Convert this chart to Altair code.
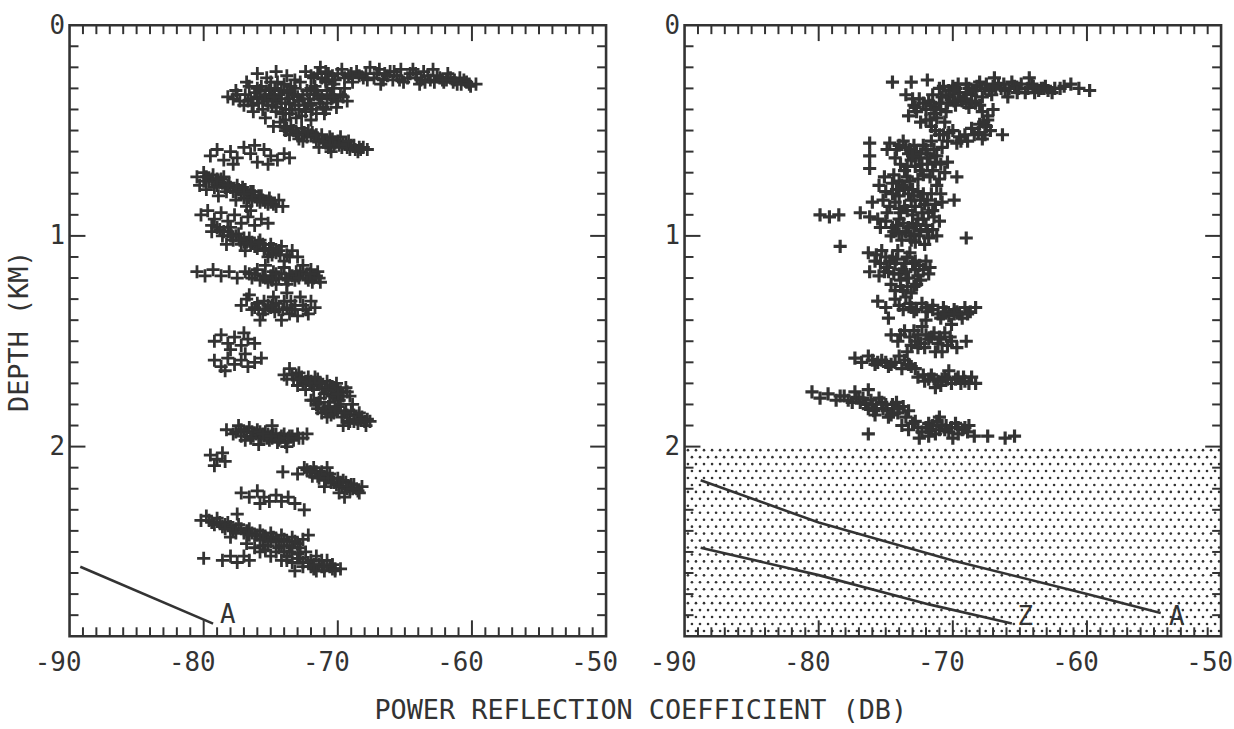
import altair as alt
import numpy as np
import pandas as pd

INK = "#333333"
FONT = "DejaVu Sans Mono"
W, H = 540, 615
X_DOMAIN = [-90, -50]
Y_DOMAIN = [0, 2.9]
CROSS = "M-1,0L1,0M0,-1L0,1"

# ---- left panel: (power reflection coefficient dB, depth km) ----
left_top_streak = [
    (-76.0, 0.23), (-75.3, 0.25), (-74.6, 0.22), (-73.2, 0.26), (-72.4, 0.22), (-71.8, 0.25),
    (-71.3, 0.20), (-70.7, 0.23), (-70.2, 0.26), (-69.7, 0.21), (-69.2, 0.24), (-68.6, 0.22),
    (-68.1, 0.25), (-67.6, 0.20), (-67.1, 0.23), (-66.6, 0.26), (-66.1, 0.22), (-65.6, 0.24),
    (-65.1, 0.27), (-64.6, 0.23), (-64.1, 0.25), (-63.6, 0.22), (-63.1, 0.26), (-62.6, 0.24),
    (-62.1, 0.27), (-61.6, 0.25), (-61.1, 0.28), (-60.6, 0.26), (-60.1, 0.29), (-59.7, 0.28),
    (-65.3, 0.21), (-63.9, 0.28), (-62.9, 0.21), (-68.9, 0.27), (-70.9, 0.27), (-61.8, 0.23),
    (-66.8, 0.28),
    (-71.5, 0.23), (-70.4, 0.24), (-69.0, 0.23), (-67.9, 0.23), (-66.3, 0.24), (-65.8, 0.22),
    (-64.8, 0.25), (-63.3, 0.24), (-62.4, 0.25), (-61.4, 0.27), (-60.4, 0.27),
    (-72.0, 0.24), (-70.9, 0.22), (-69.5, 0.25), (-68.4, 0.24), (-67.3, 0.25), (-66.9, 0.21),
    (-65.9, 0.26), (-64.4, 0.21), (-63.8, 0.26), (-62.8, 0.27), (-61.9, 0.26), (-60.9, 0.25),
    (-60.2, 0.28), (-73.8, 0.24),
    (-71.2, 0.25), (-70.0, 0.23), (-68.9, 0.25), (-67.8, 0.26), (-66.5, 0.23), (-65.4, 0.26),
    (-64.2, 0.23), (-63.5, 0.27), (-62.2, 0.26), (-61.3, 0.26), (-60.8, 0.28),
]
left_upper_mass = [
    (-78.2, 0.34), (-77.6, 0.31), (-77.3, 0.36), (-76.9, 0.33), (-76.6, 0.29), (-76.4, 0.38),
    (-76.0, 0.34), (-75.8, 0.31), (-75.6, 0.40), (-75.3, 0.36), (-75.0, 0.27), (-75.0, 0.33),
    (-74.7, 0.30), (-74.6, 0.39), (-74.3, 0.35), (-74.1, 0.42), (-74.0, 0.28), (-73.8, 0.32),
    (-73.6, 0.37), (-73.4, 0.40), (-73.2, 0.30), (-73.0, 0.34), (-72.8, 0.27), (-72.7, 0.43),
    (-72.5, 0.38), (-72.3, 0.31), (-72.1, 0.35), (-71.9, 0.40), (-71.7, 0.29), (-71.5, 0.33),
    (-71.3, 0.37), (-71.0, 0.42), (-70.8, 0.31), (-70.5, 0.35), (-70.3, 0.28), (-70.1, 0.39),
    (-69.8, 0.33), (-69.5, 0.30), (-73.9, 0.45), (-76.8, 0.27), (-75.4, 0.44), (-70.9, 0.26),
    (-69.3, 0.36), (-72.0, 0.45), (-74.8, 0.36),
    (-76.2, 0.32), (-75.5, 0.35), (-75.1, 0.31), (-74.4, 0.33), (-73.7, 0.35), (-73.3, 0.33),
    (-72.9, 0.36), (-72.6, 0.33), (-72.2, 0.37), (-71.8, 0.33), (-71.4, 0.35), (-74.9, 0.38),
    (-73.9, 0.40), (-72.4, 0.41), (-75.9, 0.37), (-71.1, 0.39), (-70.6, 0.33), (-70.0, 0.36),
    (-77.8, 0.35), (-77.0, 0.38), (-76.5, 0.35), (-75.7, 0.29), (-75.2, 0.38), (-74.5, 0.27),
    (-73.9, 0.37), (-73.5, 0.29), (-72.9, 0.40), (-72.0, 0.30), (-71.6, 0.42), (-70.8, 0.37),
    (-74.2, 0.31), (-76.3, 0.41), (-73.1, 0.44), (-70.4, 0.30), (-69.6, 0.34),
    (-77.5, 0.33), (-76.7, 0.36), (-76.0, 0.30), (-75.4, 0.33), (-74.8, 0.34), (-74.2, 0.37),
    (-73.6, 0.31), (-73.2, 0.38), (-72.6, 0.35), (-72.0, 0.38), (-71.6, 0.31), (-71.2, 0.34),
    (-70.9, 0.40), (-70.3, 0.34), (-74.6, 0.41), (-73.6, 0.42), (-75.0, 0.30),
]
left_band_05 = [
    (-74.8, 0.48), (-74.3, 0.46), (-73.9, 0.50), (-73.5, 0.48), (-73.1, 0.51), (-72.7, 0.49),
    (-72.3, 0.53), (-71.9, 0.51), (-71.6, 0.55), (-71.2, 0.52), (-70.9, 0.56), (-70.6, 0.53),
    (-70.3, 0.57), (-70.0, 0.55), (-69.7, 0.58), (-69.4, 0.56), (-69.1, 0.59), (-68.8, 0.57),
    (-68.5, 0.60), (-68.1, 0.58), (-67.8, 0.59), (-71.4, 0.58), (-72.9, 0.54), (-69.8, 0.53),
    (-70.5, 0.60), (-73.6, 0.52),
    (-72.0, 0.52), (-71.4, 0.54), (-70.8, 0.55), (-70.2, 0.56), (-69.6, 0.56), (-69.0, 0.57),
    (-68.4, 0.58), (-71.1, 0.55), (-70.4, 0.54),
    (-74.0, 0.48), (-73.3, 0.50), (-72.5, 0.51), (-71.8, 0.53), (-69.3, 0.58), (-68.7, 0.59),
    (-72.6, 0.55), (-70.7, 0.58),
    (-73.8, 0.49), (-73.0, 0.52), (-72.2, 0.50), (-71.6, 0.52), (-70.6, 0.57), (-69.9, 0.57),
    (-69.2, 0.55), (-68.3, 0.59),
]
left_band_06 = [
    (-79.5, 0.62), (-79.0, 0.59), (-78.5, 0.64), (-78.0, 0.60), (-77.5, 0.63), (-77.0, 0.58),
    (-76.5, 0.61), (-76.0, 0.65), (-75.5, 0.59), (-75.0, 0.62), (-74.5, 0.64), (-74.0, 0.61),
    (-73.6, 0.63), (-77.8, 0.66), (-76.2, 0.57), (-75.2, 0.66),
]
left_band_08 = [
    (-80.5, 0.72), (-80.0, 0.70), (-79.6, 0.74), (-79.3, 0.71), (-79.0, 0.76), (-78.7, 0.73),
    (-78.4, 0.77), (-78.1, 0.75), (-77.8, 0.79), (-77.5, 0.76), (-77.2, 0.80), (-76.9, 0.78),
    (-76.6, 0.82), (-76.3, 0.79), (-76.0, 0.83), (-75.7, 0.81), (-75.4, 0.84), (-75.1, 0.82),
    (-74.8, 0.85), (-74.4, 0.83), (-74.1, 0.86), (-79.8, 0.78), (-78.9, 0.81), (-77.6, 0.83),
    (-76.8, 0.86), (-80.3, 0.76),
    (-78.6, 0.75), (-78.0, 0.77), (-77.4, 0.78), (-76.8, 0.80), (-76.2, 0.81), (-75.6, 0.83),
    (-79.4, 0.73), (-77.0, 0.82),
    (-80.0, 0.74), (-79.1, 0.74), (-78.3, 0.79), (-77.1, 0.77), (-76.5, 0.79), (-75.9, 0.81),
    (-75.2, 0.85), (-74.6, 0.86), (-78.5, 0.72),
    (-79.8, 0.72), (-79.0, 0.73), (-78.2, 0.76), (-77.6, 0.79), (-77.0, 0.80), (-76.4, 0.83),
    (-75.8, 0.84), (-75.0, 0.84), (-79.2, 0.77),
]
left_band_09 = [
    (-80.2, 0.90), (-79.7, 0.88), (-79.2, 0.92), (-78.7, 0.89), (-78.2, 0.93), (-77.7, 0.90),
    (-77.2, 0.94), (-76.7, 0.91), (-76.2, 0.95), (-75.7, 0.92), (-75.2, 0.94), (-78.0, 0.96),
    (-79.4, 0.95), (-76.5, 0.88),
]
left_band_10 = [
    (-79.4, 0.98), (-79.0, 0.96), (-78.6, 1.00), (-78.2, 0.98), (-77.8, 1.02), (-77.4, 0.99),
    (-77.0, 1.03), (-76.6, 1.01), (-76.2, 1.05), (-75.8, 1.02), (-75.4, 1.06), (-75.0, 1.04),
    (-74.6, 1.08), (-74.2, 1.05), (-73.8, 1.09), (-73.4, 1.07), (-73.0, 1.10), (-76.9, 1.07),
    (-75.2, 1.10), (-78.3, 1.04), (-74.0, 1.12),
    (-77.6, 1.00), (-77.0, 1.01), (-76.4, 1.03), (-75.6, 1.04), (-74.8, 1.06), (-74.4, 1.07),
    (-76.0, 1.06),
    (-78.8, 0.97), (-78.0, 1.00), (-77.2, 1.04), (-76.8, 1.03), (-75.5, 1.07), (-74.9, 1.09),
    (-73.6, 1.10),
    (-78.5, 0.98), (-77.9, 1.00), (-77.3, 1.02), (-76.5, 1.04), (-75.9, 1.03), (-75.1, 1.06),
    (-74.3, 1.09),
]
left_band_12 = [
    (-80.5, 1.17), (-79.9, 1.19), (-79.3, 1.16), (-78.7, 1.19), (-78.1, 1.17), (-77.5, 1.20),
    (-76.9, 1.17), (-76.4, 1.20), (-76.0, 1.16), (-75.6, 1.19), (-75.2, 1.22), (-74.8, 1.17),
    (-74.4, 1.20), (-74.0, 1.15), (-73.6, 1.18), (-73.2, 1.21), (-72.8, 1.17), (-72.4, 1.20),
    (-72.0, 1.16), (-71.6, 1.19), (-71.3, 1.22), (-73.8, 1.23), (-75.4, 1.14), (-72.6, 1.14),
    (-74.6, 1.23),
    (-75.0, 1.19), (-74.2, 1.18), (-73.4, 1.19), (-72.6, 1.18), (-71.8, 1.20), (-73.0, 1.19),
    (-72.2, 1.21),
    (-76.6, 1.18), (-75.8, 1.21), (-74.9, 1.21), (-73.9, 1.20), (-73.1, 1.17), (-72.3, 1.18),
    (-71.5, 1.17), (-71.9, 1.22),
    (-76.2, 1.18), (-75.4, 1.20), (-74.6, 1.18), (-73.7, 1.21), (-72.9, 1.20), (-72.1, 1.18),
    (-71.4, 1.20),
]
left_band_13 = [
    (-77.2, 1.33), (-76.8, 1.30), (-76.4, 1.35), (-76.0, 1.32), (-75.6, 1.37), (-75.2, 1.33),
    (-74.8, 1.29), (-74.4, 1.35), (-74.0, 1.31), (-73.6, 1.37), (-73.2, 1.33), (-72.8, 1.29),
    (-72.4, 1.35), (-72.0, 1.31), (-71.7, 1.34), (-75.8, 1.40), (-74.2, 1.40), (-73.0, 1.38),
    (-76.6, 1.28), (-73.8, 1.27),
    (-75.0, 1.34), (-74.6, 1.32), (-73.8, 1.34), (-73.4, 1.35), (-75.4, 1.35),
    (-76.2, 1.34), (-75.5, 1.31), (-74.7, 1.36), (-73.5, 1.31), (-72.6, 1.33), (-72.2, 1.37),
    (-75.9, 1.35), (-74.9, 1.33), (-74.1, 1.35), (-73.2, 1.35),
]
left_band_15 = [
    (-79.2, 1.50), (-78.7, 1.47), (-78.2, 1.51), (-77.7, 1.48), (-77.2, 1.52), (-76.7, 1.49),
    (-76.2, 1.51), (-78.0, 1.54), (-77.0, 1.46),
    (-79.2, 1.59), (-78.7, 1.62), (-78.2, 1.58), (-77.7, 1.61), (-77.2, 1.59), (-76.7, 1.62),
    (-76.2, 1.60), (-75.7, 1.58), (-78.4, 1.64), (-76.9, 1.56),
]
left_band_17 = [
    (-74.0, 1.66), (-73.6, 1.63), (-73.3, 1.68), (-72.9, 1.65), (-72.6, 1.70), (-72.2, 1.67),
    (-71.9, 1.71), (-71.5, 1.68), (-71.2, 1.72), (-70.8, 1.69), (-70.5, 1.73), (-70.1, 1.70),
    (-69.8, 1.74), (-69.4, 1.72), (-69.1, 1.76), (-71.0, 1.75), (-72.4, 1.73), (-73.0, 1.71),
    (-70.2, 1.77),
    (-72.0, 1.78), (-71.6, 1.80), (-71.3, 1.77), (-71.0, 1.82), (-70.6, 1.79), (-70.3, 1.84),
    (-70.0, 1.81), (-69.7, 1.86), (-69.4, 1.83), (-69.1, 1.88), (-68.8, 1.85), (-68.5, 1.89),
    (-68.2, 1.86), (-67.9, 1.90), (-67.6, 1.88), (-70.8, 1.86), (-69.6, 1.90), (-68.9, 1.80),
    (-69.9, 1.78),
    (-72.7, 1.67), (-72.0, 1.69), (-71.4, 1.70), (-70.6, 1.71), (-70.0, 1.73), (-69.3, 1.74),
    (-71.4, 1.79), (-70.7, 1.81), (-70.0, 1.83), (-69.3, 1.85), (-68.6, 1.87), (-68.0, 1.88),
    (-71.8, 1.73), (-70.4, 1.76),
    (-73.8, 1.68), (-73.1, 1.66), (-72.4, 1.69), (-71.7, 1.67), (-70.9, 1.72), (-70.3, 1.72),
    (-69.6, 1.76), (-71.8, 1.78), (-71.2, 1.84), (-70.5, 1.85), (-69.8, 1.80), (-69.0, 1.83),
    (-68.4, 1.84), (-67.8, 1.87), (-69.2, 1.89),
    (-73.4, 1.66), (-72.8, 1.68), (-72.1, 1.70), (-71.3, 1.70), (-70.7, 1.73), (-70.0, 1.75),
    (-71.5, 1.82), (-70.9, 1.83), (-70.2, 1.82), (-69.5, 1.84), (-68.8, 1.88), (-68.3, 1.87),
]
left_band_19 = [
    (-78.3, 1.92), (-77.8, 1.94), (-77.4, 1.90), (-77.0, 1.93), (-76.6, 1.91), (-76.3, 1.95),
    (-76.0, 1.92), (-75.7, 1.96), (-75.4, 1.93), (-75.1, 1.97), (-74.8, 1.94), (-74.5, 1.98),
    (-74.2, 1.95), (-73.9, 1.98), (-73.6, 1.95), (-73.3, 1.97), (-73.0, 1.94), (-72.6, 1.96),
    (-72.3, 1.94), (-75.9, 1.99), (-74.9, 1.90), (-76.9, 1.97), (-73.8, 2.00),
    (-76.8, 1.93), (-76.1, 1.94), (-75.5, 1.95), (-74.9, 1.96), (-74.3, 1.96), (-75.2, 1.94),
    (-74.0, 1.94),
    (-77.6, 1.93), (-77.2, 1.95), (-76.4, 1.93), (-75.8, 1.93), (-75.3, 1.96), (-74.6, 1.94),
    (-73.4, 1.95), (-72.9, 1.96),
    (-77.2, 1.92), (-76.5, 1.96), (-75.6, 1.94), (-75.0, 1.95), (-74.4, 1.97), (-73.7, 1.96),
    (-79.5, 2.04), (-79.0, 2.06), (-78.6, 2.03), (-79.2, 2.09), (-78.4, 2.07),
]
left_band_21 = [
    (-74.1, 2.12), (-73.0, 2.13), (-72.5, 2.10), (-72.1, 2.12), (-71.8, 2.10), (-71.5, 2.14),
    (-71.2, 2.12), (-70.9, 2.16), (-70.6, 2.13), (-70.3, 2.17), (-70.0, 2.15), (-69.7, 2.19),
    (-69.4, 2.17), (-69.1, 2.21), (-68.8, 2.18), (-68.5, 2.21), (-68.2, 2.19), (-71.0, 2.19),
    (-69.9, 2.22), (-70.8, 2.10), (-69.5, 2.24),
    (-71.6, 2.12), (-71.0, 2.14), (-70.4, 2.15), (-69.8, 2.17), (-69.2, 2.19), (-68.6, 2.20),
    (-72.3, 2.11), (-71.3, 2.13), (-70.7, 2.15), (-70.1, 2.18), (-69.6, 2.16), (-69.0, 2.18),
    (-68.4, 2.22), (-71.9, 2.14),
    (-72.0, 2.12), (-71.4, 2.15), (-70.5, 2.17), (-69.9, 2.19), (-69.3, 2.20), (-68.9, 2.20),
    (-77.2, 2.22), (-76.6, 2.24), (-76.0, 2.21), (-75.5, 2.24), (-75.1, 2.26), (-74.6, 2.23),
    (-74.2, 2.26), (-73.7, 2.24), (-73.2, 2.27), (-75.8, 2.27), (-72.5, 2.30),
]
left_band_24 = [
    (-80.2, 2.35), (-79.8, 2.33), (-79.4, 2.36), (-79.0, 2.34), (-78.6, 2.38), (-78.2, 2.36),
    (-77.8, 2.40), (-77.4, 2.37), (-77.0, 2.41), (-76.6, 2.39), (-76.2, 2.42), (-75.8, 2.40),
    (-75.4, 2.43), (-75.0, 2.41), (-74.6, 2.44), (-74.2, 2.42), (-73.8, 2.45), (-73.4, 2.43),
    (-73.0, 2.46), (-72.6, 2.44), (-72.2, 2.42), (-78.0, 2.43), (-76.8, 2.46), (-75.6, 2.47),
    (-77.5, 2.32),
    (-78.4, 2.37), (-77.6, 2.39), (-76.8, 2.40), (-76.0, 2.42), (-75.2, 2.44), (-74.4, 2.45),
    (-73.6, 2.47),
    (-79.6, 2.35), (-78.8, 2.36), (-78.0, 2.38), (-77.2, 2.39), (-76.4, 2.41), (-75.6, 2.42),
    (-74.8, 2.43), (-74.0, 2.44), (-73.2, 2.45),
    (-79.2, 2.37), (-78.4, 2.39), (-77.6, 2.41), (-76.6, 2.42), (-75.8, 2.44), (-75.0, 2.45),
    (-74.2, 2.47), (-73.4, 2.48),
    (-76.2, 2.48), (-75.8, 2.50), (-75.4, 2.49), (-75.0, 2.52), (-74.6, 2.50), (-74.2, 2.54),
    (-73.8, 2.52), (-73.4, 2.55), (-73.0, 2.53), (-72.6, 2.57), (-72.2, 2.55), (-71.8, 2.58),
    (-71.4, 2.56), (-71.0, 2.59), (-70.6, 2.57), (-70.2, 2.59), (-69.8, 2.58), (-72.4, 2.50),
    (-71.6, 2.52), (-73.2, 2.59), (-70.8, 2.54),
    (-74.0, 2.50), (-73.0, 2.51), (-72.0, 2.54), (-71.2, 2.57), (-70.4, 2.58), (-72.8, 2.48),
    (-75.2, 2.47), (-74.4, 2.48), (-73.6, 2.50), (-72.8, 2.53), (-72.0, 2.57), (-71.2, 2.54),
    (-70.4, 2.56), (-71.6, 2.59),
    (-73.8, 2.54), (-72.6, 2.55), (-71.8, 2.56), (-71.0, 2.57), (-70.2, 2.58),
    (-80.0, 2.53), (-78.6, 2.54), (-78.0, 2.52), (-77.5, 2.55), (-77.0, 2.52), (-76.6, 2.54),
]

# ---- right panel ----
right_top_streak = [
    (-74.5, 0.27), (-73.1, 0.27), (-71.9, 0.26), (-71.0, 0.30), (-70.5, 0.33), (-70.0, 0.29),
    (-69.5, 0.32), (-69.0, 0.28), (-68.5, 0.31), (-68.0, 0.27), (-67.6, 0.30), (-67.1, 0.33),
    (-66.6, 0.28), (-66.1, 0.31), (-65.6, 0.27), (-65.1, 0.30), (-64.6, 0.32), (-64.1, 0.28),
    (-63.6, 0.31), (-63.1, 0.29), (-62.6, 0.32), (-62.0, 0.30), (-61.2, 0.28), (-60.6, 0.30),
    (-59.8, 0.31), (-67.8, 0.34), (-65.9, 0.34), (-64.3, 0.25), (-69.2, 0.35), (-66.9, 0.25),
    (-70.3, 0.31), (-69.8, 0.30), (-68.8, 0.30), (-68.2, 0.29), (-67.3, 0.31), (-66.4, 0.30),
    (-65.4, 0.29), (-64.4, 0.30), (-63.4, 0.30), (-62.4, 0.30),
    (-70.7, 0.29), (-69.6, 0.28), (-68.6, 0.33), (-67.5, 0.28), (-66.8, 0.30), (-65.8, 0.30),
    (-64.9, 0.28), (-63.9, 0.32), (-62.9, 0.31), (-61.7, 0.29),
    (-70.0, 0.31), (-69.0, 0.32), (-68.3, 0.31), (-67.0, 0.29), (-66.2, 0.28), (-65.2, 0.32),
    (-64.0, 0.29), (-63.2, 0.30),
]
right_upper_ring = [
    (-73.5, 0.33), (-72.9, 0.38), (-73.3, 0.43), (-72.5, 0.35), (-72.0, 0.40), (-71.5, 0.33),
    (-71.2, 0.44), (-71.0, 0.37), (-70.5, 0.41), (-70.2, 0.34), (-70.0, 0.50), (-69.8, 0.38),
    (-69.3, 0.36), (-68.8, 0.39), (-68.3, 0.37), (-67.8, 0.41), (-67.4, 0.45), (-67.2, 0.50),
    (-67.8, 0.54), (-68.4, 0.52), (-68.9, 0.55), (-69.5, 0.53), (-70.4, 0.55), (-71.0, 0.52),
    (-71.6, 0.48), (-70.6, 0.46), (-68.0, 0.47), (-67.0, 0.40), (-72.4, 0.46),
    (-72.2, 0.37), (-71.3, 0.39), (-70.4, 0.37), (-69.6, 0.35), (-67.5, 0.48), (-69.1, 0.52),
    (-70.3, 0.51), (-71.3, 0.50), (-72.7, 0.41),
    (-73.0, 0.35), (-71.8, 0.36), (-70.8, 0.34), (-69.0, 0.37), (-68.0, 0.38), (-67.4, 0.43),
    (-72.0, 0.45), (-71.4, 0.42), (-70.7, 0.52), (-68.6, 0.49), (-67.6, 0.52), (-69.7, 0.56),
    (-72.8, 0.39), (-71.6, 0.38), (-70.9, 0.40), (-69.9, 0.36), (-68.6, 0.36), (-67.7, 0.46),
    (-68.1, 0.51), (-69.4, 0.55), (-71.7, 0.45),
]
right_scattered = [
    (-76.2, 0.56), (-76.2, 0.62), (-76.2, 0.68), (-66.3, 0.52), (-69.7, 0.72), (-69.9, 0.83),
    (-69.0, 1.01), (-79.9, 0.90), (-79.2, 0.91), (-78.5, 0.90), (-76.9, 0.89), (-76.2, 0.91),
    (-75.6, 0.92), (-78.4, 1.05), (-76.0, 0.84), (-76.3, 1.94), (-68.4, 1.95), (-67.4, 1.95),
    (-66.1, 1.96), (-65.4, 1.95),
]
right_column = [
    (-74.7, 0.56), (-74.2, 0.59), (-73.7, 0.55), (-73.3, 0.61), (-72.9, 0.57), (-72.5, 0.63),
    (-72.0, 0.59), (-71.6, 0.55), (-71.2, 0.62), (-70.8, 0.58), (-70.4, 0.65), (-72.8, 0.67),
    (-73.9, 0.66), (-71.5, 0.69), (-74.4, 0.71), (-73.4, 0.72), (-72.2, 0.71), (-70.6, 0.70),
    (-71.9, 0.66),
    (-73.5, 0.58), (-72.7, 0.60), (-71.9, 0.61), (-73.1, 0.64), (-72.3, 0.66), (-71.3, 0.65),
    (-74.9, 0.59), (-74.3, 0.63), (-73.2, 0.59), (-72.2, 0.57), (-71.4, 0.59), (-70.9, 0.66),
    (-73.6, 0.69), (-72.6, 0.73), (-71.0, 0.73), (-74.0, 0.74), (-75.1, 0.72),
    (-74.0, 0.57), (-73.0, 0.62), (-72.4, 0.61), (-71.7, 0.63), (-73.4, 0.67), (-72.4, 0.69),
    (-71.7, 0.72), (-73.2, 0.74),
    (-75.5, 0.76), (-75.0, 0.79), (-74.5, 0.75), (-74.0, 0.81), (-73.6, 0.77), (-73.1, 0.83),
    (-72.6, 0.79), (-72.1, 0.85), (-71.6, 0.80), (-71.2, 0.76), (-70.8, 0.84), (-74.7, 0.86),
    (-73.4, 0.88), (-72.3, 0.89), (-75.2, 0.83), (-71.5, 0.88),
    (-73.8, 0.76), (-73.0, 0.78), (-72.2, 0.80), (-74.3, 0.84), (-73.6, 0.86), (-72.8, 0.86),
    (-74.2, 0.78), (-72.9, 0.81), (-71.9, 0.83), (-70.9, 0.80), (-74.9, 0.89), (-73.9, 0.89),
    (-74.5, 0.80), (-73.3, 0.80), (-72.4, 0.83), (-71.3, 0.85), (-74.0, 0.87), (-73.0, 0.90),
    (-71.8, 0.89),
    (-75.0, 0.93), (-74.5, 0.96), (-74.0, 0.92), (-73.5, 0.98), (-73.0, 0.94), (-72.5, 1.00),
    (-72.0, 0.95), (-71.5, 0.97), (-71.0, 0.93), (-73.8, 1.02), (-72.8, 1.03), (-71.8, 1.01),
    (-74.6, 1.00),
    (-74.2, 0.95), (-73.3, 0.96), (-72.4, 0.97), (-73.2, 1.00), (-72.2, 0.92),
    (-72.6, 0.92), (-71.4, 0.91), (-74.4, 0.98), (-73.1, 1.02), (-72.1, 1.04), (-71.2, 1.00),
    (-75.4, 0.96),
    (-73.7, 0.94), (-72.7, 0.95), (-71.9, 0.98), (-74.0, 0.99), (-72.9, 0.99),
]
right_mid = [
    (-76.3, 1.08), (-75.8, 1.12), (-75.3, 1.07), (-74.9, 1.15), (-74.5, 1.10), (-74.0, 1.18),
    (-73.6, 1.13), (-73.2, 1.08), (-72.8, 1.16), (-72.4, 1.21), (-72.0, 1.12), (-71.8, 1.18),
    (-75.5, 1.19), (-74.6, 1.23), (-73.7, 1.26), (-72.9, 1.24), (-74.1, 1.07), (-76.2, 1.17),
    (-71.7, 1.15), (-73.3, 1.20),
    (-75.0, 1.10), (-74.3, 1.13), (-73.8, 1.16), (-73.0, 1.13), (-74.4, 1.18), (-73.4, 1.24),
    (-72.6, 1.19),
    (-75.7, 1.09), (-74.7, 1.12), (-73.4, 1.10), (-72.5, 1.14), (-75.1, 1.17), (-73.9, 1.21),
    (-73.1, 1.27), (-74.3, 1.26), (-72.2, 1.16),
    (-75.4, 1.13), (-74.8, 1.17), (-74.2, 1.11), (-73.5, 1.17), (-72.8, 1.12), (-73.9, 1.24),
    (-72.7, 1.23), (-73.5, 1.29),
    (-75.6, 1.31), (-75.0, 1.34), (-74.3, 1.30), (-73.7, 1.35), (-73.2, 1.32), (-72.7, 1.35),
    (-72.3, 1.32), (-71.9, 1.36), (-71.5, 1.33), (-71.1, 1.37), (-70.7, 1.34), (-70.3, 1.38),
    (-69.9, 1.35), (-69.5, 1.37), (-69.1, 1.34), (-68.7, 1.36), (-68.3, 1.34), (-70.1, 1.42),
    (-74.8, 1.39), (-72.0, 1.40),
    (-71.5, 1.35), (-70.5, 1.36), (-69.7, 1.36),
    (-74.0, 1.33), (-72.9, 1.36), (-70.9, 1.39), (-69.3, 1.39), (-68.9, 1.37),
    (-73.1, 1.34), (-72.0, 1.34), (-70.7, 1.37), (-69.9, 1.37),
    (-74.6, 1.47), (-74.1, 1.50), (-73.6, 1.45), (-73.1, 1.52), (-72.6, 1.47), (-72.1, 1.53),
    (-71.6, 1.48), (-71.1, 1.51), (-70.6, 1.46), (-70.1, 1.50), (-69.7, 1.53), (-73.4, 1.55),
    (-72.3, 1.43), (-71.3, 1.55), (-69.0, 1.50),
    (-71.8, 1.49), (-72.8, 1.50), (-70.9, 1.49), (-73.2, 1.48),
    (-73.9, 1.47), (-72.4, 1.51), (-71.4, 1.46), (-70.4, 1.52), (-70.8, 1.55),
    (-72.9, 1.45), (-72.0, 1.47), (-71.0, 1.48), (-70.2, 1.48), (-72.6, 1.53),
]
right_lower = [
    (-77.3, 1.58), (-76.8, 1.60), (-76.3, 1.57), (-75.8, 1.61), (-75.3, 1.59), (-74.8, 1.62),
    (-74.3, 1.60), (-73.8, 1.63), (-73.3, 1.61), (-72.8, 1.63), (-74.0, 1.57),
    (-76.0, 1.59), (-75.0, 1.60), (-73.6, 1.59), (-75.6, 1.60), (-74.6, 1.61), (-73.1, 1.62),
    (-72.6, 1.67), (-72.1, 1.69), (-71.6, 1.66), (-71.1, 1.69), (-70.6, 1.67), (-70.1, 1.70),
    (-69.6, 1.67), (-69.1, 1.69), (-68.6, 1.67), (-68.3, 1.70), (-71.3, 1.72), (-70.3, 1.64),
    (-71.8, 1.68), (-70.8, 1.68), (-69.8, 1.68),
    (-72.2, 1.66), (-70.9, 1.71), (-69.4, 1.70), (-68.8, 1.70),
    (-71.4, 1.68), (-70.4, 1.68), (-69.2, 1.67),
    (-80.5, 1.74), (-79.9, 1.77), (-79.3, 1.75), (-78.7, 1.78), (-78.1, 1.76), (-77.5, 1.79),
    (-77.0, 1.77), (-76.5, 1.80), (-76.1, 1.78), (-75.7, 1.82), (-75.3, 1.79), (-74.9, 1.83),
    (-74.5, 1.80), (-74.1, 1.84), (-73.7, 1.81), (-73.3, 1.83), (-75.8, 1.85), (-74.8, 1.86),
    (-76.3, 1.73), (-77.3, 1.74),
    (-76.0, 1.80), (-75.2, 1.82), (-74.4, 1.82), (-75.5, 1.77),
    (-78.4, 1.76), (-77.2, 1.77), (-76.7, 1.77), (-75.9, 1.83), (-74.6, 1.85), (-74.2, 1.79),
    (-73.5, 1.86),
    (-77.8, 1.78), (-76.9, 1.79), (-76.3, 1.82), (-75.0, 1.80), (-74.0, 1.82),
    (-73.8, 1.90), (-73.3, 1.92), (-72.8, 1.88), (-72.3, 1.93), (-71.8, 1.89), (-71.3, 1.94),
    (-70.8, 1.90), (-70.3, 1.93), (-69.8, 1.89), (-69.3, 1.92), (-68.8, 1.90), (-71.0, 1.86),
    (-72.5, 1.96), (-70.0, 1.96),
    (-72.0, 1.91), (-71.0, 1.92), (-70.1, 1.91), (-69.1, 1.91),
    (-72.6, 1.91), (-71.5, 1.90), (-70.5, 1.90), (-69.6, 1.94), (-68.9, 1.93), (-71.8, 1.95),
    (-73.0, 1.89), (-71.6, 1.92), (-70.6, 1.92), (-69.6, 1.91), (-71.2, 1.88),
]

# reference curves (dB, depth km)
left_curve_a = [(-89.2, 2.57), (-79.3, 2.84)]
right_curve_a = [(-88.8, 2.16), (-80.0, 2.36), (-70.0, 2.54), (-60.0, 2.70), (-54.5, 2.79)]
right_curve_z = [(-88.8, 2.48), (-80.0, 2.61), (-71.7, 2.75), (-65.6, 2.84)]
left_curve_labels = [("A", -78.2, 2.80)]
right_curve_labels = [("Z", -64.6, 2.81), ("A", -53.3, 2.81)]

# shaded (stippled) depth range below the ice base, right panel
shade_top, shade_bottom = 2.0, 2.9

# tick positions
x_labels = [-90, -80, -70, -60, -50]
x_major = [-80, -70, -60]
x_minor = [v for v in range(-89, -50) if v % 10 != 0]
y_labels = [0, 1, 2]
y_major = [1, 2]
y_minor = [round(0.1 * k, 1) for k in range(1, 29) if k % 10 != 0]

xs = alt.Scale(domain=X_DOMAIN, nice=False, zero=False)
ys = alt.Scale(domain=Y_DOMAIN, reverse=True, nice=False, zero=False)

x_axis = alt.Axis(
    values=x_labels, tickSize=0, domain=False, grid=False, title=None,
    labelPadding=13, labelOffset=-12, labelFontSize=26, labelFont=FONT,
    labelColor=INK, labelFlush=False, labelOverlap=False,
    labelExpr="datum.value < 0 ? '-' + abs(datum.value) : '' + datum.value",
)


def y_axis(title):
    kw = dict(
        values=y_labels, tickSize=0, domain=False, grid=False,
        labelPadding=5, labelFontSize=26, labelFont=FONT, labelColor=INK,
        labelFlush=False, labelOverlap=False,
    )
    if title:
        kw.update(title=title, titleFont=FONT, titleFontSize=27,
                  titleFontWeight="normal", titleColor=INK, titlePadding=16)
    else:
        kw.update(title=None)
    return alt.Axis(**kw)


def enc_x(field, yt):
    return alt.X(field, scale=xs, axis=x_axis)


def enc_y(field, yt):
    return alt.Y(field, scale=ys, axis=y_axis(yt))


def to_df(*groups):
    rows = [p for g in groups for p in g]
    return pd.DataFrame(rows, columns=["db", "depth"])


def tick_layers(yt):
    layers = []
    for vals, length in ((x_minor, 9), (x_major, 16)):
        d = pd.DataFrame({"db": vals})
        x = enc_x("db:Q", yt)
        layers.append(alt.Chart(d).mark_rule(color=INK, strokeWidth=2)
                      .encode(x=x, y=alt.value(0), y2=alt.value(length)))
        layers.append(alt.Chart(d).mark_rule(color=INK, strokeWidth=2)
                      .encode(x=x, y=alt.value(H), y2=alt.value(H - length)))
    for vals, length in ((y_minor, 9), (y_major, 16)):
        d = pd.DataFrame({"depth": vals})
        y = enc_y("depth:Q", yt)
        layers.append(alt.Chart(d).mark_rule(color=INK, strokeWidth=2)
                      .encode(y=y, x=alt.value(0), x2=alt.value(length)))
        layers.append(alt.Chart(d).mark_rule(color=INK, strokeWidth=2)
                      .encode(y=y, x=alt.value(W), x2=alt.value(W - length)))
    return layers


def scatter(df, yt, stroke_w):
    return alt.Chart(df).mark_point(
        shape=CROSS, filled=False, size=175, strokeWidth=stroke_w, color=INK, opacity=1
    ).encode(x=enc_x("db:Q", yt), y=enc_y("depth:Q", yt))


def curve(points, yt):
    d = pd.DataFrame(points, columns=["db", "depth"]).assign(order=range(len(points)))
    return alt.Chart(d).mark_line(color=INK, strokeWidth=2.6).encode(
        x=enc_x("db:Q", yt), y=enc_y("depth:Q", yt), order="order:O",
    )


def curve_labels(items, yt):
    d = pd.DataFrame(items, columns=["label", "db", "depth"])
    return alt.Chart(d).mark_text(
        font=FONT, fontSize=26, color=INK, align="center", baseline="middle"
    ).encode(x=enc_x("db:Q", yt), y=enc_y("depth:Q", yt), text="label:N")


def stipple(yt):
    # regular staggered dot texture over the shaded depth range
    rows = []
    for i, dep in enumerate(np.arange(shade_top + 0.017, shade_bottom, 0.033)):
        shift = 0.3 if i % 2 else 0.0
        for db in np.arange(-89.75 + shift, -50.0, 0.6):
            rows.append((db, dep))
    d = pd.DataFrame(rows, columns=["db", "depth"])
    return alt.Chart(d).mark_circle(size=7, color=INK, opacity=1).encode(
        x=enc_x("db:Q", yt), y=enc_y("depth:Q", yt)
    )


left_df = to_df(left_top_streak, left_upper_mass, left_band_05, left_band_06, left_band_08,
                left_band_09, left_band_10, left_band_12, left_band_13, left_band_15,
                left_band_17, left_band_19, left_band_21, left_band_24)
right_df = to_df(right_top_streak, right_upper_ring, right_scattered, right_column,
                 right_mid, right_lower)

LT = "DEPTH (KM)"
left = alt.layer(
    scatter(left_df, LT, 2.8),
    curve(left_curve_a, LT),
    curve_labels(left_curve_labels, LT),
    *tick_layers(LT),
).properties(width=W, height=H)

right = alt.layer(
    scatter(right_df, None, 3.2),
    stipple(None),
    curve(right_curve_a, None),
    curve(right_curve_z, None),
    curve_labels(right_curve_labels, None),
    *tick_layers(None),
).properties(width=W, height=H)

chart = alt.hconcat(left, right, spacing=29).properties(
    title=alt.TitleParams(
        text="POWER REFLECTION COEFFICIENT (DB)", orient="bottom", anchor="middle",
        font=FONT, fontSize=27, fontWeight="normal", color=INK, offset=22, dx=22,
    ),
    padding={"left": 4, "top": 8, "right": 0, "bottom": 0},
    background="white",
).configure_view(stroke=INK, strokeWidth=2.6)

chart.save("out.html", embed_options={"renderer": "svg", "actions": False})
